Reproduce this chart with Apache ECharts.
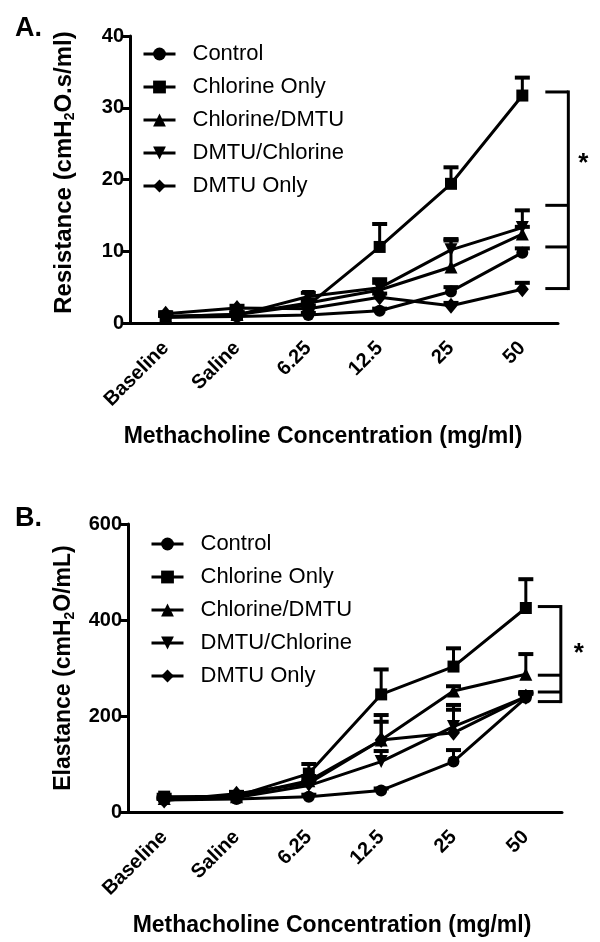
<!DOCTYPE html>
<html>
<head>
<meta charset="utf-8">
<script src="https://cdn.jsdelivr.net/npm/echarts@6/dist/echarts.min.js"></script>
<style>html,body{margin:0;padding:0;background:#fff}#c{width:600px;height:942px}</style>
</head>
<body>
<div id="c"></div>
<script>
const categories = ['Baseline', 'Saline', '6.25', '12.5', '25', '50'];
const seriesNames = ['Control', 'Chlorine Only', 'Chlorine/DMTU', 'DMTU/Chlorine', 'DMTU Only'];
const yTicksA = [0, 10, 20, 30, 40];
const yTicksB = [0, 200, 400, 600];

// Panel A: Resistance (mean, upper SEM)
const resControl = [0.8, 0.9, 1.1, 1.7, 4.4, 9.8];
const resControlErr = [0.2, 0.2, 0.3, 0.3, 0.6, 0.6];
const resChlorine = [0.9, 1.2, 2.5, 10.6, 19.4, 31.7];
const resChlorineErr = [0.3, 0.3, 0.5, 3.2, 2.3, 2.5];
const resChlDmtu = [0.9, 1.2, 2.8, 4.6, 7.8, 12.4];
const resChlDmtuErr = [0.2, 0.3, 0.5, 1.0, 3.9, 1.0];
const resDmtuChl = [0.8, 1.1, 3.7, 4.9, 10.2, 13.3];
const resDmtuChlErr = [0.2, 0.3, 0.5, 1.2, 1.3, 2.4];
const resDmtuOnly = [1.3, 2.1, 2.0, 3.6, 2.4, 4.7];
const resDmtuOnlyErr = [0.2, 0.3, 0.4, 0.5, 0.4, 0.9];
const bracketA = [32.2, 16.4, 10.6, 4.8];
const starA = 23.0;

// Panel B: Elastance (mean, upper SEM)
const elaControl = [25, 27, 32, 45, 105, 238];
const elaControlErr = [3, 3, 4, 4, 24, 8];
const elaChlorine = [32, 33, 80, 245, 303, 425];
const elaChlorineErr = [4, 4, 20, 52, 38, 60];
const elaChlDmtu = [28, 32, 65, 150, 252, 287];
const elaChlDmtuErr = [3, 3, 10, 52, 10, 42];
const elaDmtuChl = [26, 30, 55, 105, 178, 240];
const elaDmtuChlErr = [3, 3, 8, 22, 45, 10];
const elaDmtuOnly = [24, 38, 60, 150, 165, 240];
const elaDmtuOnlyErr = [3, 4, 8, 38, 48, 8];
const bracketB = [428, 285, 250, 230];
const starB = 342;

const FONT = 'Liberation Sans, Arial, sans-serif';
const symbols = ['circle', 'rect', 'triangle', 'path://M0,0 L10,0 L5,10 Z', 'diamond'];
const symbolSizes = [12, 12, 13, 13, [13, 16]];

const resData = [resControl, resChlorine, resChlDmtu, resDmtuChl, resDmtuOnly];
const resErr = [resControlErr, resChlorineErr, resChlDmtuErr, resDmtuChlErr, resDmtuOnlyErr];
const elaData = [elaControl, elaChlorine, elaChlDmtu, elaDmtuChl, elaDmtuOnly];
const elaErr = [elaControlErr, elaChlorineErr, elaChlDmtuErr, elaDmtuChlErr, elaDmtuOnlyErr];

function errRender(params, api) {
  const x = api.value(0), v = api.value(1), e = api.value(2);
  const p0 = api.coord([x, v]);
  const p1 = api.coord([x, v + e]);
  return {
    type: 'group',
    children: [
      { type: 'line', shape: { x1: p0[0], y1: p0[1], x2: p1[0], y2: p1[1] }, style: { stroke: '#000', lineWidth: 3 } },
      { type: 'line', shape: { x1: p1[0] - 7.5, y1: p1[1], x2: p1[0] + 7.5, y2: p1[1] }, style: { stroke: '#000', lineWidth: 4 } }
    ]
  };
}

function bracketRender(levels, star, off1, off2, starOff) {
  return function (params, api) {
    const xi = api.value(0);
    const pts = levels.map(l => api.coord([xi, l]));
    const x1 = pts[0][0] + off1, x2 = pts[0][0] + off2;
    const ys = pts.map(p => p[1]);
    const children = [
      { type: 'line', shape: { x1: x2, y1: Math.min(...ys) - 1.5, x2: x2, y2: Math.max(...ys) + 1.5 }, style: { stroke: '#000', lineWidth: 3 } }
    ];
    ys.forEach(y => children.push({ type: 'line', shape: { x1: x1, y1: y, x2: x2, y2: y }, style: { stroke: '#000', lineWidth: 3 } }));
    const ps = api.coord([xi, star]);
    children.push({ type: 'text', x: pts[0][0] + starOff, y: ps[1] + 6,
      style: { text: '*', font: 'bold 26px ' + FONT, fill: '#000', align: 'center', verticalAlign: 'middle', textAlign: 'center', textVerticalAlign: 'middle' } });
    return { type: 'group', children: children };
  };
}

const axisLabelStyle = { color: '#000', fontWeight: 'bold', fontSize: 20, fontFamily: FONT };

function xAxisFor(gi, centerShift) {
  return {
    type: 'category', gridIndex: gi, data: categories, boundaryGap: true,
    axisLine: { lineStyle: { color: '#000', width: 3 } },
    axisTick: { alignWithLabel: true, length: 8, lineStyle: { color: '#000', width: 3 } },
    axisLabel: Object.assign({ rotate: 45, margin: 22, interval: 0 }, axisLabelStyle),
    name: 'Methacholine Concentration (mg/ml)', nameLocation: 'middle', nameGap: 102,
    nameTextStyle: { color: '#000', fontWeight: 'bold', fontSize: 23, fontFamily: FONT, padding: [0, centerShift, 0, 0] },
    splitLine: { show: false }
  };
}

function yAxisFor(gi, max, interval, nameRich, gap, shift, fs) {
  return {
    type: 'value', gridIndex: gi, min: 0, max: max, interval: interval,
    axisLine: { show: true, lineStyle: { color: '#000', width: 3 } },
    axisTick: { show: true, length: 8, lineStyle: { color: '#000', width: 3 } },
    axisLabel: Object.assign({ margin: 6 }, axisLabelStyle),
    splitLine: { show: false },
    name: nameRich, nameLocation: 'middle', nameGap: gap,
    nameTextStyle: {
      color: '#000', fontWeight: 'bold', fontSize: fs, fontFamily: FONT, padding: shift,
      rich: {
        b: { fontWeight: 'bold', fontSize: fs, fontFamily: FONT, color: '#000', lineHeight: 26 },
        s: { fontWeight: 'bold', fontSize: 14, fontFamily: FONT, color: '#000', lineHeight: 14, verticalAlign: 'bottom' }
      }
    }
  };
}

const series = [];
function addPanel(gi, data, errs, levels, star, off1, off2, starOff) {
  data.forEach((d, i) => {
    series.push({
      name: seriesNames[i], type: 'line', xAxisIndex: gi, yAxisIndex: gi,
      data: d, symbol: symbols[i], symbolSize: symbolSizes[i], showSymbol: true,
      itemStyle: { color: '#000' }, lineStyle: { color: '#000', width: 3 }, z: 3, animation: false
    });
    series.push({
      name: 'err' + gi + '_' + i, type: 'custom', xAxisIndex: gi, yAxisIndex: gi,
      data: d.map((v, k) => [k, v, errs[i][k]]), encode: { x: 0, y: 1 },
      renderItem: errRender, z: 2, animation: false, silent: true
    });
  });
  series.push({
    name: 'bracket' + gi, type: 'custom', xAxisIndex: gi, yAxisIndex: gi,
    data: [[categories.length - 1, levels[0]]], encode: { x: 0, y: 1 },
    renderItem: bracketRender(levels, star, off1, off2, starOff), clip: false, animation: false, silent: true
  });
}
addPanel(0, resData, resErr, bracketA, starA, 23, 46, 61);
addPanel(1, elaData, elaErr, bracketB, starB, 12, 35, 53);

function legendFor(left, top) {
  return {
    left: left, top: top, orient: 'vertical', data: seriesNames,
    itemWidth: 32, itemHeight: 16, itemGap: 11,
    lineStyle: { width: 3, color: '#000' },
    itemStyle: { color: '#000' },
    textStyle: { color: '#000', fontSize: 22, fontFamily: FONT, lineHeight: 22, padding: [0, 0, 0, 12] },
    inactiveColor: '#000', selectedMode: false
  };
}

const chart = echarts.init(document.getElementById('c'), null, { renderer: 'canvas' });
chart.setOption({
  backgroundColor: '#fff',
  animation: false,
  title: [
    { text: 'A.', left: 10, top: 10, textStyle: { fontSize: 27, fontWeight: 'bold', color: '#000', fontFamily: FONT } },
    { text: 'B.', left: 10, top: 500, textStyle: { fontSize: 27, fontWeight: 'bold', color: '#000', fontFamily: FONT } }
  ],
  grid: [
    { left: 130, top: 36, width: 428, height: 287 },
    { left: 128, top: 524, width: 434, height: 288 }
  ],
  xAxis: [xAxisFor(0, 42), xAxisFor(1, 26)],
  yAxis: [
    yAxisFor(0, 40, 10, '{b|Resistance (cmH}{s|2}{b|O.s/ml)}', 53, [0, 0, 0, 14], 24),
    yAxisFor(1, 600, 200, '{b|Elastance (cmH}{s|2}{b|O/mL)}', 51, [0, 0, 0, 0], 23)
  ],
  legend: [legendFor(137, 38), legendFor(145, 528)],
  series: series
});
</script>
</body>
</html>
